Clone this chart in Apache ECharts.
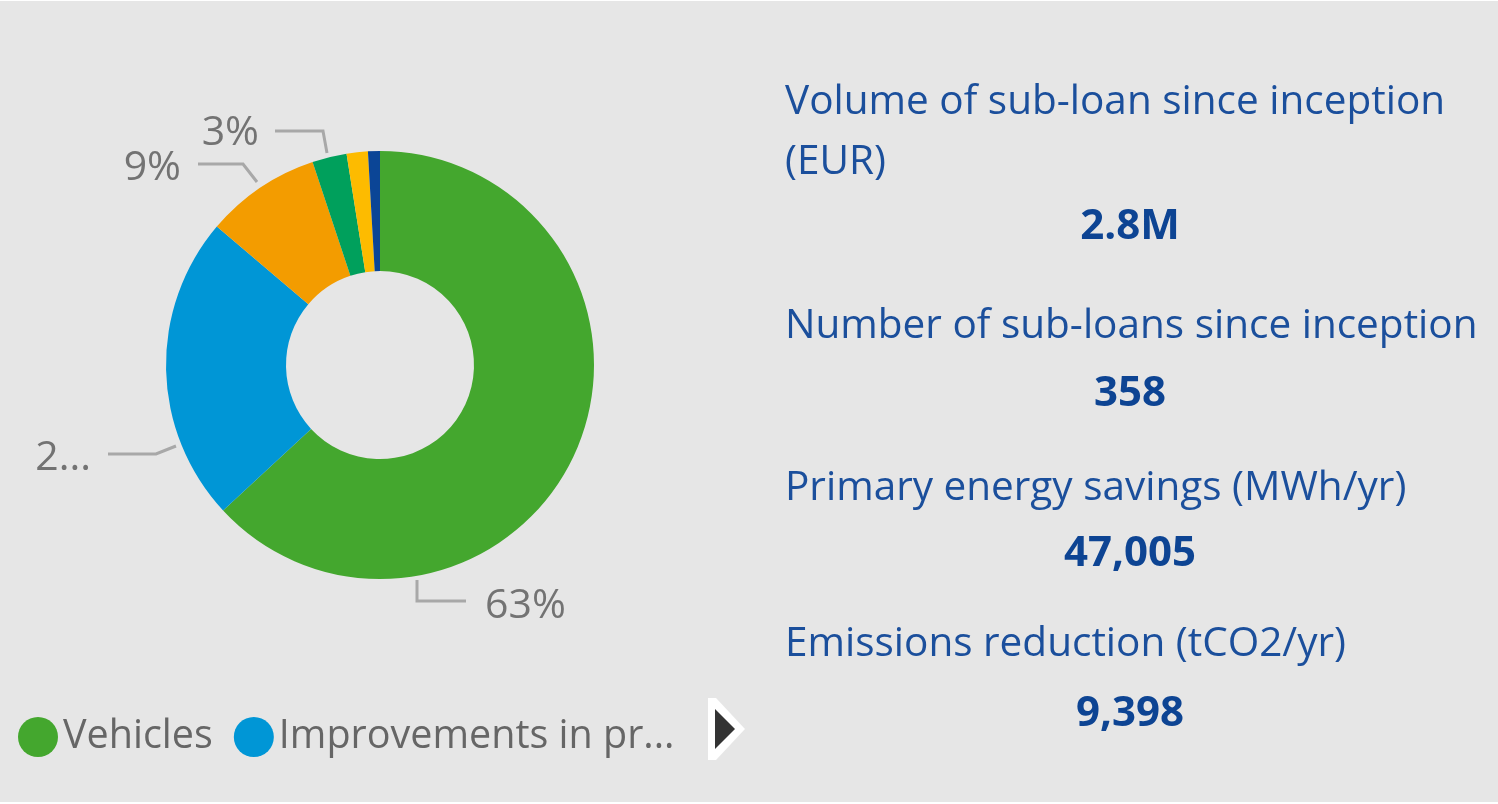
<!DOCTYPE html>
<html>
<head>
    <meta charset="UTF-8">
    <title>Sub-loans by category</title>
    <script type="text/javascript" src="https://cdn.jsdelivr.net/npm/echarts@6/dist/echarts.min.js"></script>
</head>
<body style="margin: 0;overflow: hidden;background: #fff;width: 100%;height: 100%;position: absolute;top: 0;">
<div id="chart" style="position: absolute;top: 1px;left: 0;width: 1498px;height: 801px;"></div>
<script type="text/javascript">
    // share of sub-loan volume per category (%)
    var categories = [
        "Vehicles",
        "Improvements in production processes",
        "Building envelope",
        "Renewable energy",
        "Residential equipment",
        "Other"
    ];
    var shares = [63.1, 23.1, 8.7, 2.6, 1.6, 0.9];
    var colors = ['#44a72e', '#0096d6', '#f39c00', '#00a05c', '#fdbb00', '#0b4596'];

    // KPI cards on the right
    var kpiTitles = [
        "Volume of sub-loan since inception (EUR)",
        "Number of sub-loans since inception",
        "Primary energy savings (MWh/yr)",
        "Emissions reduction (tCO2/yr)"
    ];
    var kpiValues = ["2.8M", "358", "47,005", "9,398"];

    var fontFamily = '"Open Sans", "Noto Sans", sans-serif';

    // where each visible label sits (Power BI style placement)
    var labelSpots = [
        {x: 485, y: 605, align: 'left', line: [[417, 579], [417, 600], [466, 600]]},
        {x: 91, y: 457, align: 'right', line: [[176, 445], [156, 453], [108, 453]]},
        {x: 181, y: 167, align: 'right', line: [[257, 181], [243, 163], [198, 163]]},
        {x: 259, y: 132, align: 'right', line: [[327, 152], [323, 130], [275, 130]]}
    ];

    var pieData = categories.map(function (name, i) {
        var item = {name: name, value: shares[i], itemStyle: {color: colors[i]}};
        if (shares[i] < 2) {
            item.label = {show: false};
            item.labelLine = {show: false};
        }
        if (i === 1) {
            item.label = {width: 60, overflow: 'truncate', ellipsis: '...'};
        }
        return item;
    });

    var graphics = [];
    var titleMid = [101, 325, 487, 643];
    var valueMid = [226, 393, 553, 713];
    kpiTitles.forEach(function (t, i) {
        graphics.push({
            type: 'text',
            left: 785,
            top: titleMid[i] - 30,
            style: {
                text: t,
                width: 710,
                overflow: 'break',
                lineHeight: 60,
                font: '40.5px ' + fontFamily,
                fill: '#1b4f9c'
            }
        });
        graphics.push({
            type: 'text',
            x: 1130,
            y: valueMid[i],
            style: {
                text: kpiValues[i],
                textAlign: 'center',
                textVerticalAlign: 'middle',
                font: 'bold 42px ' + fontFamily,
                fill: '#0d4493'
            }
        });
    });
    // legend "next page" arrow
    graphics.push({
        type: 'polygon',
        shape: {points: [[708, 697], [716, 697], [745, 728], [716, 759], [708, 759]]},
        style: {fill: '#ffffff'}
    });
    graphics.push({
        type: 'polygon',
        shape: {points: [[715, 708], [735, 728], [715, 748]]},
        style: {fill: '#333333'}
    });

    var chart = echarts.init(document.getElementById('chart'));
    var option = {
        backgroundColor: '#e6e6e6',
        animation: false,
        legend: {
            left: 13,
            top: 711,
            icon: 'circle',
            itemWidth: 40,
            itemHeight: 40,
            itemGap: 21,
            textStyle: {
                fontFamily: fontFamily,
                fontSize: 39.5,
                color: '#666666'
            },
            data: [
                {name: categories[0]},
                {name: categories[1], textStyle: {width: 420, overflow: 'truncate', ellipsis: '...'}}
            ]
        },
        graphic: graphics,
        series: [
            {
                type: 'pie',
                center: [380, 364],
                radius: [94, 214],
                startAngle: 90,
                clockwise: true,
                avoidLabelOverlap: false,
                label: {
                    show: true,
                    formatter: '{d}%',
                    fontFamily: fontFamily,
                    fontSize: 41,
                    color: '#737373'
                },
                labelLine: {
                    show: true,
                    length: 20,
                    length2: 40,
                    lineStyle: {color: '#a8a8a8', width: 3}
                },
                percentPrecision: 0,
                labelLayout: function (params) {
                    var spot = labelSpots[params.dataIndex];
                    if (!spot) {
                        return {};
                    }
                    return {
                        x: spot.x,
                        y: spot.y,
                        align: spot.align,
                        verticalAlign: 'middle',
                        labelLinePoints: spot.line
                    };
                },
                data: pieData
            }
        ]
    };
    chart.setOption(option);
</script>
</body>
</html>
